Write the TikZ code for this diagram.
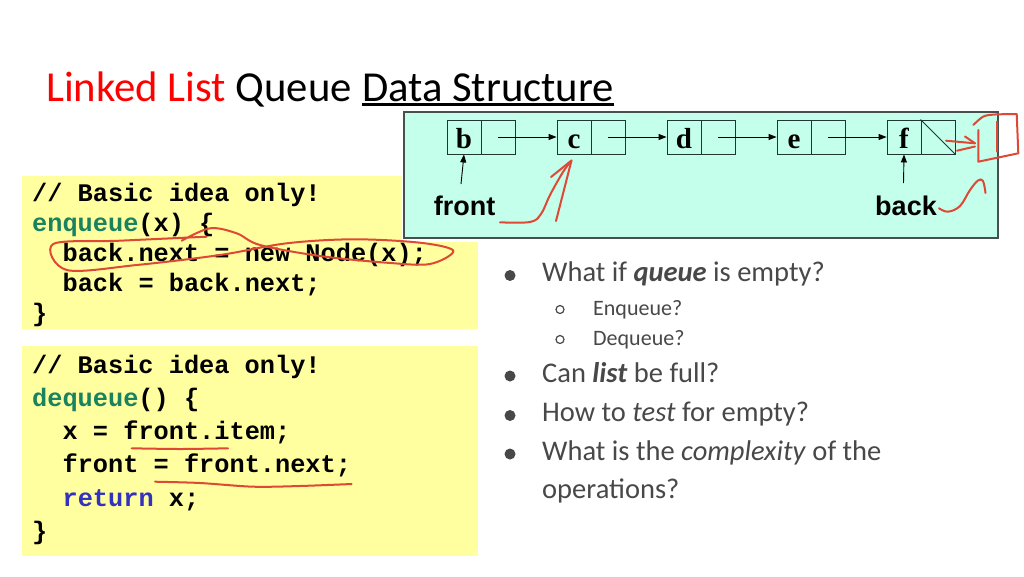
\documentclass[tikz,border=0pt]{standalone}
\usepackage{fontspec}
\setmainfont{Carlito}
\setmonofont{Liberation Mono}
\newfontfamily\serifb{Liberation Serif}
\newfontfamily\arialb{Liberation Sans}
\usetikzlibrary{arrows.meta}
\definecolor{titlered}{RGB}{255,0,0}
\definecolor{codeyellow}{RGB}{255,255,160}
\definecolor{diagbg}{RGB}{195,255,235}
\definecolor{diagborder}{RGB}{70,80,78}
\definecolor{cellborder}{RGB}{30,55,50}
\definecolor{codegreen}{RGB}{25,130,95}
\definecolor{codeblue}{RGB}{50,50,190}
\definecolor{textgray}{RGB}{72,72,72}
\definecolor{inkred}{RGB}{222,72,52}
\begin{document}
\begin{tikzpicture}[x=1pt,y=-1pt,
  cell/.style={draw=cellborder, line width=0.9pt, minimum width=34pt, minimum height=34pt, inner sep=0pt, text height=22pt, text depth=0pt, font=\serifb\bfseries\fontsize{29}{29}\selectfont},
  ptr/.style={-{Triangle[length=8pt,width=6pt]}, line width=0.9pt},
  code/.style={anchor=base west, inner sep=0pt, font=\ttfamily\bfseries\fontsize{25.3}{30}\selectfont},
  btxt/.style={anchor=base west, inner sep=0pt, text=textgray, font=\fontsize{28.5}{32}\selectfont},
  stxt/.style={anchor=base west, inner sep=0pt, text=textgray, font=\fontsize{22}{24}\selectfont},
  ttl/.style={anchor=base west, inner sep=0pt, font=\fontsize{42.7}{50}\selectfont},
  lbl/.style={anchor=base, inner sep=0pt, font=\arialb\bfseries\fontsize{27}{27}\selectfont},
  ink/.style={draw=inkred, line width=2pt, line cap=round, line join=round},
  codebox/.style={fill=codeyellow, draw=none}
]
\useasboundingbox (0,0) rectangle (1024,576);
\fill[white] (0,0) rectangle (1024,576);

% title
\node[ttl] (t1) at (46,101) {\textcolor{titlered}{Linked List} Queue};
\node[ttl] (t3) at (362,101) {Data Structure};
\draw[line width=2.5pt] ([yshift=-3.5pt]t3.base west) -- ([yshift=-3.5pt]t3.base east);

% code boxes
\fill[codebox] (22,176) rectangle (478,329);
\fill[codebox] (22,346) rectangle (478,556);

% diagram
\fill[white] (401.5,108.5) rectangle (1001,241.5);
\draw[fill=diagbg, draw=diagborder, line width=1.2pt] (404,112) rectangle (998,238);

\foreach \n/\l [count=\i from 0] in {b/b,c/c,d/d,e/e,f/f}{
  \node[cell] (\n) at (464+110*\i,137) {\l};
  \node[cell] (\n R) at (498+110*\i,137) {};
}
\draw[line width=0.9pt, cellborder] (fR.north west) -- (fR.south east);
\draw[ptr] (bR.center) -- (c.west);
\draw[ptr] (cR.center) -- (d.west);
\draw[ptr] (dR.center) -- (e.west);
\draw[ptr] (eR.center) -- (f.west);

\node[lbl] (front) at (464.5,215) {front};
\node[lbl] (back) at (906,215) {back};
\coordinate (fa) at (461,184);
\coordinate (ba) at (903.5,183);
\draw[ptr] (fa) -- (b.south);
\draw[ptr] (ba) -- (f.south);

% code text box 1
\node[code] (e1) at (32,201) {// Basic idea only!};
\node[code] (e2) at (32,231.3) {\textcolor{codegreen}{enqueue}(x) \{};
\node[code] (e3) at (62.4,261.6) {back.next = new Node(x);};
\node[code] (e4) at (62.4,291.9) {back = back.next;};
\node[code] (e5) at (32,321.5) {\}};

% code text box 2
\node[code] (q1) at (32,373) {// Basic idea only!};
\node[code] (q2) at (32,406.3) {\textcolor{codegreen}{dequeue}() \{};
\node[code] (q3) at (62.4,439.6) {x = front.item;};
\node[code] (q4) at (62.4,472.9) {front = front.next;};
\node[code] (q5) at (62.4,506.2) {\textcolor{codeblue}{return} x;};
\node[code] (q6) at (32,539) {\}};

% bullets
\fill[textgray] (510,275.5) circle (5.5);
\fill[textgray] (510,376) circle (5.5);
\fill[textgray] (510,415.5) circle (5.5);
\fill[textgray] (510,454) circle (5.5);
\draw[textgray, line width=1.2pt] (560,309.5) circle (4);
\draw[textgray, line width=1.2pt] (560,339.5) circle (4);
\node[btxt] (b1) at (542,281.5) {What if \textbf{\textit{queue}} is empty?};
\node[stxt] (s1) at (593,315) {Enqueue?};
\node[stxt] (s2) at (593,345) {Dequeue?};
\node[btxt] (b2) at (542,382) {Can \textbf{\textit{list}} be full?};
\node[btxt] (b3) at (542,421.5) {How to \textit{test} for empty?};
\node[btxt] (b4) at (542,460) {What is the \textit{complexity} of the};
\node[btxt] (b5) at (542,498.5) {operations?};

% red ink annotations
\draw[ink] plot[smooth, tension=0.55] coordinates {(181.7,240.7) (210,228.3) (236.7,233.3) (260,245) (320,256) (386.7,262.7) (430,264) (453.3,250.7) (420,242.7) (353.3,239.3) (286.7,243.3) (220,255) (136.7,265) (66.7,270) (53.3,244) (120,240.7) (206.7,236.7)};
\draw[ink] plot[smooth] coordinates {(131.7,448.3) (180,449) (228,448.3)};
\draw[ink] plot[smooth] coordinates {(155,481.7) (200,483) (253,486.7) (300,486) (351.7,484)};
% front -> c
\draw[ink] plot[smooth, tension=0.6] coordinates {(500,222.3) (530,222) (541,214) (550,195) (563,172) (571.5,160.5)};
\draw[ink] (551,177) -- (571.5,160.5) -- (556,221);
% f -> new node
\draw[ink] (946,140.7) -- (975,143.3);
\draw[ink] (965,136.5) -- (975,143.3);
\draw[ink] (957,150.7) -- (975,146.5);
\draw[ink] (978.3,130) -- (978.3,161.7) -- (1018.3,153.3) -- (1016.7,114);
\draw[ink] plot[smooth] coordinates {(1016.7,114) (995,114.5) (983.3,116.5) (973.3,125)};
\draw[ink] (997.3,121.7) -- (997.3,151.7);
% back squiggle
\draw[ink] plot[smooth, tension=0.6] coordinates {(939,208.3) (948,211.7) (960,206) (970,190) (978,180.5) (983,181) (985.5,193)};
\end{tikzpicture}
\end{document}
